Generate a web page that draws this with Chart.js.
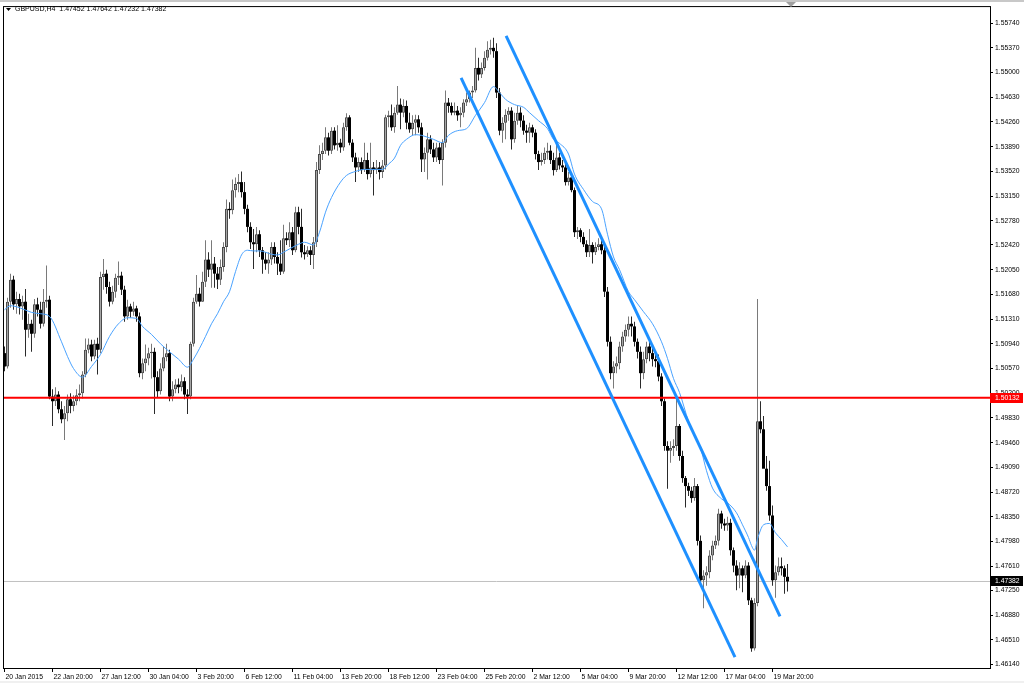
<!DOCTYPE html>
<html>
<head>
<meta charset="utf-8">
<script src="https://cdn.jsdelivr.net/npm/chart.js@4.4.0/dist/chart.umd.min.js"></script>
<style>
html, body { margin: 0; padding: 0; background: #fff; overflow: hidden; }
canvas { display: block; }
</style>
</head>
<body>
<canvas id="myChart" width="1024" height="683"></canvas>
<script>
// GBPUSD H4 candles, one entry per bar (bar index = position on the time axis)
const openP = [
  1.5080, 1.5060, 1.5157, 1.5190, 1.5153, 1.5161, 1.5150, 1.5157, 1.5115, 1.5124,
  1.5109, 1.5153, 1.5145, 1.5124, 1.5157, 1.5160, 1.5015, 1.5008, 1.5018, 1.4996,
  1.4981, 1.4990, 1.5011, 1.5001, 1.5008, 1.5017, 1.5020, 1.5048, 1.5085, 1.5093,
  1.5075, 1.5094, 1.5085, 1.5194, 1.5199, 1.5179, 1.5157, 1.5172, 1.5193, 1.5196,
  1.5175, 1.5135, 1.5150, 1.5142, 1.5147, 1.5135, 1.5050, 1.5065, 1.5072, 1.5080,
  1.5082, 1.5044, 1.5023, 1.5057, 1.5074, 1.5080, 1.5015, 1.5026, 1.5033, 1.5029,
  1.5038, 1.5018, 1.5015, 1.5094, 1.5157, 1.5169, 1.5157, 1.5187, 1.5220, 1.5205,
  1.5214, 1.5199, 1.5190, 1.5209, 1.5239, 1.5296, 1.5294, 1.5324, 1.5333, 1.5336,
  1.5321, 1.5296, 1.5269, 1.5246, 1.5243, 1.5258, 1.5234, 1.5220, 1.5214, 1.5220,
  1.5239, 1.5224, 1.5214, 1.5202, 1.5252, 1.5249, 1.5261, 1.5234, 1.5291, 1.5269,
  1.5231, 1.5228, 1.5234, 1.5227, 1.5246, 1.5354, 1.5378, 1.5383, 1.5403, 1.5383,
  1.5413, 1.5391, 1.5395, 1.5388, 1.5418, 1.5433, 1.5395, 1.5373, 1.5358, 1.5366,
  1.5354, 1.5369, 1.5348, 1.5358, 1.5354, 1.5358, 1.5351, 1.5361, 1.5433, 1.5436,
  1.5418, 1.5440, 1.5452, 1.5440, 1.5450, 1.5425, 1.5415, 1.5425, 1.5430, 1.5418,
  1.5370, 1.5380, 1.5400, 1.5385, 1.5373, 1.5388, 1.5369, 1.5395, 1.5455, 1.5450,
  1.5440, 1.5443, 1.5436, 1.5440, 1.5455, 1.5460, 1.5470, 1.5473, 1.5507, 1.5497,
  1.5507, 1.5522, 1.5534, 1.5537, 1.5532, 1.5470, 1.5413, 1.5425, 1.5437, 1.5443,
  1.5400, 1.5428, 1.5440, 1.5428, 1.5413, 1.5410, 1.5418, 1.5410, 1.5378, 1.5366,
  1.5369, 1.5380, 1.5383, 1.5369, 1.5354, 1.5373, 1.5361, 1.5358, 1.5336, 1.5343,
  1.5324, 1.5261, 1.5264, 1.5254, 1.5243, 1.5231, 1.5242, 1.5231, 1.5239, 1.5243,
  1.5234, 1.5172, 1.5097, 1.5050, 1.5060, 1.5065, 1.5090, 1.5105, 1.5115, 1.5124,
  1.5120, 1.5097, 1.5082, 1.5050, 1.5071, 1.5090, 1.5080, 1.5071, 1.5068, 1.5045,
  1.5008, 1.4941, 1.4934, 1.4938, 1.4941, 1.4971, 1.4926, 1.4893, 1.4881, 1.4874,
  1.4863, 1.4881, 1.4799, 1.4740, 1.4747, 1.4752, 1.4777, 1.4792, 1.4799, 1.4840,
  1.4825, 1.4822, 1.4826, 1.4785, 1.4762, 1.4747, 1.4758, 1.4747, 1.4762, 1.4710,
  1.4638, 1.4706, 1.4978, 1.4966, 1.4907, 1.4881, 1.4837, 1.4740, 1.4752, 1.4761,
  1.4758, 1.47452
];
const highP = [
  1.5090, 1.5163, 1.5199, 1.5196, 1.5172, 1.5169, 1.5166, 1.5176, 1.5139, 1.5130,
  1.5161, 1.5163, 1.5157, 1.5176, 1.5211, 1.5166, 1.5026, 1.5029, 1.5023, 1.5008,
  1.5001, 1.5018, 1.5020, 1.5017, 1.5026, 1.5033, 1.5053, 1.5102, 1.5102, 1.5100,
  1.5100, 1.5103, 1.5202, 1.5221, 1.5205, 1.5187, 1.5181, 1.5199, 1.5217, 1.5202,
  1.5181, 1.5160, 1.5154, 1.5157, 1.5151, 1.5141, 1.5072, 1.5093, 1.5088, 1.5094,
  1.5088, 1.5053, 1.5065, 1.5090, 1.5094, 1.5085, 1.5038, 1.5041, 1.5042, 1.5048,
  1.5044, 1.5026, 1.5097, 1.5163, 1.5197, 1.5178, 1.5202, 1.5249, 1.5231, 1.5249,
  1.5224, 1.5209, 1.5220, 1.5246, 1.5310, 1.5306, 1.5340, 1.5343, 1.5348, 1.5352,
  1.5336, 1.5302, 1.5276, 1.5266, 1.5269, 1.5264, 1.5239, 1.5231, 1.5231, 1.5246,
  1.5246, 1.5231, 1.5249, 1.5272, 1.5261, 1.5276, 1.5269, 1.5299, 1.5299, 1.5296,
  1.5242, 1.5240, 1.5240, 1.5254, 1.5366, 1.5391, 1.5395, 1.5418, 1.5410, 1.5418,
  1.5418, 1.5421, 1.5401, 1.5425, 1.5439, 1.5436, 1.5400, 1.5380, 1.5373, 1.5373,
  1.5395, 1.5380, 1.5395, 1.5366, 1.5369, 1.5366, 1.5369, 1.5437, 1.5443, 1.5452,
  1.5448, 1.5480, 1.5461, 1.5460, 1.5458, 1.5440, 1.5436, 1.5437, 1.5436, 1.5425,
  1.5388, 1.5410, 1.5406, 1.5395, 1.5395, 1.5395, 1.5400, 1.5473, 1.5462, 1.5455,
  1.5455, 1.5450, 1.5448, 1.5460, 1.5470, 1.5473, 1.5480, 1.5537, 1.5522, 1.5515,
  1.5532, 1.5547, 1.5549, 1.5552, 1.5544, 1.5477, 1.5433, 1.5445, 1.5448, 1.5448,
  1.5440, 1.5450, 1.5448, 1.5436, 1.5422, 1.5425, 1.5422, 1.5415, 1.5383, 1.5380,
  1.5388, 1.5395, 1.5391, 1.5380, 1.5395, 1.5380, 1.5369, 1.5363, 1.5351, 1.5348,
  1.5328, 1.5269, 1.5267, 1.5261, 1.5249, 1.5266, 1.5246, 1.5246, 1.5252, 1.5249,
  1.5239, 1.5179, 1.5105, 1.5068, 1.5075, 1.5097, 1.5112, 1.5123, 1.5135, 1.5135,
  1.5127, 1.5102, 1.5090, 1.5082, 1.5097, 1.5097, 1.5093, 1.5082, 1.5078, 1.5050,
  1.5012, 1.4948, 1.4948, 1.4951, 1.5012, 1.4974, 1.4934, 1.4896, 1.4886, 1.4880,
  1.4893, 1.4884, 1.4807, 1.4755, 1.4761, 1.4785, 1.4799, 1.4807, 1.4847, 1.4844,
  1.4832, 1.4835, 1.4832, 1.4789, 1.4770, 1.4767, 1.4762, 1.4770, 1.4767, 1.4714,
  1.4713, 1.5161, 1.5008, 1.4986, 1.4926, 1.4919, 1.4852, 1.4762, 1.4774, 1.4774,
  1.4762, 1.47642
];
const lowP = [
  1.5053, 1.5057, 1.5148, 1.5145, 1.5139, 1.5138, 1.5130, 1.5075, 1.5103, 1.5082,
  1.5103, 1.5135, 1.5117, 1.5120, 1.5148, 1.5011, 1.4971, 1.5001, 1.4990, 1.4975,
  1.4950, 1.4978, 1.4990, 1.4993, 1.5002, 1.5008, 1.5012, 1.5044, 1.5080, 1.5068,
  1.5071, 1.5048, 1.5080, 1.5175, 1.5169, 1.5150, 1.5153, 1.5163, 1.5182, 1.5167,
  1.5127, 1.5130, 1.5133, 1.5136, 1.5127, 1.5044, 1.5041, 1.5053, 1.5062, 1.5042,
  1.4989, 1.5014, 1.5018, 1.5053, 1.5068, 1.5008, 1.5008, 1.5020, 1.5020, 1.5023,
  1.5011, 1.4989, 1.5011, 1.5090, 1.5154, 1.5150, 1.5157, 1.5179, 1.5194, 1.5178,
  1.5178, 1.5176, 1.5182, 1.5202, 1.5231, 1.5281, 1.5288, 1.5313, 1.5321, 1.5313,
  1.5288, 1.5261, 1.5236, 1.5206, 1.5231, 1.5224, 1.5199, 1.5205, 1.5199, 1.5212,
  1.5214, 1.5197, 1.5197, 1.5199, 1.5242, 1.5239, 1.5227, 1.5231, 1.5258, 1.5223,
  1.5220, 1.5224, 1.5212, 1.5206, 1.5239, 1.5348, 1.5369, 1.5378, 1.5376, 1.5378,
  1.5385, 1.5383, 1.5380, 1.5383, 1.5413, 1.5391, 1.5366, 1.5336, 1.5351, 1.5348,
  1.5351, 1.5340, 1.5343, 1.5316, 1.5348, 1.5340, 1.5342, 1.5355, 1.5418, 1.5413,
  1.5410, 1.5437, 1.5415, 1.5433, 1.5415, 1.5410, 1.5406, 1.5406, 1.5410, 1.5351,
  1.5351, 1.5340, 1.5378, 1.5366, 1.5366, 1.5363, 1.5331, 1.5388, 1.5440, 1.5436,
  1.5436, 1.5428, 1.5418, 1.5433, 1.5450, 1.5455, 1.5462, 1.5470, 1.5488, 1.5492,
  1.5503, 1.5518, 1.5527, 1.5522, 1.5462, 1.5406, 1.5395, 1.5400, 1.5428, 1.5385,
  1.5395, 1.5422, 1.5418, 1.5407, 1.5395, 1.5395, 1.5403, 1.5370, 1.5354, 1.5361,
  1.5363, 1.5370, 1.5363, 1.5346, 1.5351, 1.5355, 1.5351, 1.5331, 1.5331, 1.5321,
  1.5254, 1.5251, 1.5246, 1.5239, 1.5224, 1.5224, 1.5214, 1.5227, 1.5234, 1.5228,
  1.5164, 1.5090, 1.5041, 1.5027, 1.5050, 1.5056, 1.5082, 1.5097, 1.5105, 1.5105,
  1.5090, 1.5072, 1.5027, 1.5041, 1.5065, 1.5068, 1.5060, 1.5059, 1.5038, 1.5001,
  1.4934, 1.4877, 1.4916, 1.4926, 1.4934, 1.4919, 1.4886, 1.4849, 1.4866, 1.4856,
  1.4859, 1.4792, 1.4732, 1.4698, 1.4732, 1.4743, 1.4770, 1.4787, 1.4792, 1.4817,
  1.4814, 1.4814, 1.4777, 1.4752, 1.4725, 1.4728, 1.4722, 1.4743, 1.4703, 1.4633,
  1.4635, 1.4701, 1.4960, 1.4914, 1.4874, 1.4829, 1.4732, 1.4714, 1.4747, 1.4747,
  1.4720, 1.47232
];
const closeP = [
  1.5060, 1.5157, 1.5190, 1.5153, 1.5161, 1.5150, 1.5157, 1.5115, 1.5124, 1.5109,
  1.5153, 1.5145, 1.5124, 1.5157, 1.5160, 1.5015, 1.5008, 1.5018, 1.4996, 1.4981,
  1.4990, 1.5011, 1.5001, 1.5008, 1.5017, 1.5020, 1.5048, 1.5085, 1.5093, 1.5075,
  1.5094, 1.5085, 1.5194, 1.5199, 1.5179, 1.5157, 1.5172, 1.5193, 1.5196, 1.5175,
  1.5135, 1.5150, 1.5142, 1.5147, 1.5135, 1.5050, 1.5065, 1.5072, 1.5080, 1.5082,
  1.5044, 1.5023, 1.5057, 1.5074, 1.5080, 1.5015, 1.5026, 1.5033, 1.5029, 1.5038,
  1.5018, 1.5015, 1.5094, 1.5157, 1.5169, 1.5157, 1.5187, 1.5220, 1.5205, 1.5214,
  1.5199, 1.5190, 1.5209, 1.5239, 1.5296, 1.5294, 1.5324, 1.5333, 1.5336, 1.5321,
  1.5296, 1.5269, 1.5246, 1.5243, 1.5258, 1.5234, 1.5220, 1.5214, 1.5220, 1.5239,
  1.5224, 1.5214, 1.5202, 1.5252, 1.5249, 1.5261, 1.5234, 1.5291, 1.5269, 1.5231,
  1.5228, 1.5234, 1.5227, 1.5246, 1.5354, 1.5378, 1.5383, 1.5403, 1.5383, 1.5413,
  1.5391, 1.5395, 1.5388, 1.5418, 1.5433, 1.5395, 1.5373, 1.5358, 1.5366, 1.5354,
  1.5369, 1.5348, 1.5358, 1.5354, 1.5358, 1.5351, 1.5361, 1.5433, 1.5436, 1.5418,
  1.5440, 1.5452, 1.5440, 1.5450, 1.5425, 1.5415, 1.5425, 1.5430, 1.5418, 1.5370,
  1.5380, 1.5400, 1.5385, 1.5373, 1.5388, 1.5369, 1.5395, 1.5455, 1.5450, 1.5440,
  1.5443, 1.5436, 1.5440, 1.5455, 1.5460, 1.5470, 1.5473, 1.5507, 1.5497, 1.5507,
  1.5522, 1.5534, 1.5537, 1.5532, 1.5470, 1.5413, 1.5425, 1.5437, 1.5443, 1.5400,
  1.5428, 1.5440, 1.5428, 1.5413, 1.5410, 1.5418, 1.5410, 1.5378, 1.5366, 1.5369,
  1.5380, 1.5383, 1.5369, 1.5354, 1.5373, 1.5361, 1.5358, 1.5336, 1.5343, 1.5324,
  1.5261, 1.5264, 1.5254, 1.5243, 1.5231, 1.5242, 1.5231, 1.5239, 1.5243, 1.5234,
  1.5172, 1.5097, 1.5050, 1.5060, 1.5065, 1.5090, 1.5105, 1.5115, 1.5124, 1.5120,
  1.5097, 1.5082, 1.5050, 1.5071, 1.5090, 1.5080, 1.5071, 1.5068, 1.5045, 1.5008,
  1.4941, 1.4934, 1.4938, 1.4941, 1.4971, 1.4926, 1.4893, 1.4881, 1.4874, 1.4863,
  1.4881, 1.4799, 1.4740, 1.4747, 1.4752, 1.4777, 1.4792, 1.4799, 1.4840, 1.4825,
  1.4822, 1.4826, 1.4785, 1.4762, 1.4747, 1.4758, 1.4747, 1.4762, 1.4710, 1.4638,
  1.4706, 1.4978, 1.4966, 1.4907, 1.4881, 1.4837, 1.4740, 1.4752, 1.4761, 1.4758,
  1.47452, 1.47382
];

// moving average, read at these bar indices
const maIdx = [0, 2, 5, 9, 12, 15, 19, 21, 23, 26, 29, 32, 35, 38, 41, 44, 46, 49, 52, 55,
  58, 61, 63, 65, 67, 69, 71, 73, 75, 77, 79, 81, 83, 85, 87, 89, 91, 93, 95, 98,
  100, 103, 105, 107, 109, 112, 114, 117, 120, 124, 126, 128, 130, 132, 134, 137, 139, 143, 146, 148,
  151, 154, 157, 160, 163, 165, 167, 170, 173, 175, 178, 181, 183, 185, 188, 190, 193, 196, 199, 201,
  203, 205, 208, 210, 213, 216, 219, 221, 223, 225, 228, 230, 232, 234, 236, 239, 241, 244, 246, 248,
  249, 250, 251, 253, 255, 257, 259, 261];
const maVal = [1.5145, 1.5151, 1.5148, 1.5141, 1.5139, 1.5135, 1.5097, 1.5075, 1.5057, 1.5044,
  1.5060, 1.5078, 1.5105, 1.5124, 1.5133, 1.5132, 1.5120, 1.5108, 1.5094, 1.5082,
  1.5071, 1.5059, 1.5071, 1.5087, 1.5105, 1.5124, 1.5139, 1.5157, 1.5172, 1.5202,
  1.5227, 1.5234, 1.5233, 1.5233, 1.5231, 1.5228, 1.5227, 1.5231, 1.5236, 1.5243,
  1.5246, 1.5242, 1.5261, 1.5291, 1.5313, 1.5336, 1.5346, 1.5352, 1.5355, 1.5355,
  1.5355, 1.5363, 1.5372, 1.5391, 1.5400, 1.5407, 1.5406, 1.5400, 1.5395, 1.5406,
  1.5413, 1.5416, 1.5436, 1.5455, 1.5479, 1.5470, 1.5460, 1.5452, 1.5448, 1.5440,
  1.5428, 1.5416, 1.5400, 1.5394, 1.5378, 1.5348, 1.5325, 1.5307, 1.5296, 1.5258,
  1.5224, 1.5205, 1.5172, 1.5160, 1.5142, 1.5124, 1.5097, 1.5072, 1.5042, 1.5021,
  1.4978, 1.4956, 1.4938, 1.4904, 1.4878, 1.4862, 1.4856, 1.4841, 1.4823, 1.4804,
  1.4792, 1.4785, 1.4802, 1.4823, 1.4825, 1.4811, 1.4801, 1.4790];

// the two drawn channel lines (bar index, price at each end)
const chanAX = [152.2, 243.5];
const chanAY = [1.5492, 1.4625];
const chanBX = [167.2, 258.5];
const chanBY = [1.5555, 1.4686];

const levelPrice = 1.50132;
const lastPrice = 1.47382;

const xTickIdx = [0, 16, 32, 48, 64, 80, 96, 112, 128, 144, 160, 176, 192, 208, 224, 240, 256];
const xTickText = ['20 Jan 2015', '22 Jan 20:00', '27 Jan 12:00', '30 Jan 04:00', '3 Feb 20:00',
  '6 Feb 12:00', '11 Feb 04:00', '13 Feb 20:00', '18 Feb 12:00', '23 Feb 04:00', '25 Feb 20:00',
  '2 Mar 12:00', '5 Mar 04:00', '9 Mar 20:00', '12 Mar 12:00', '17 Mar 04:00', '19 Mar 20:00'];
const yTickVals = [1.55740, 1.55370, 1.55000, 1.54630, 1.54260, 1.53890, 1.53520, 1.53150, 1.52780,
  1.52420, 1.52050, 1.51680, 1.51310, 1.50940, 1.50570, 1.50200, 1.49830, 1.49460, 1.49090,
  1.48720, 1.48350, 1.47980, 1.47610, 1.47250, 1.46880, 1.46510, 1.46140];

const titleText = 'GBPUSD,H4  1.47452 1.47642 1.47232 1.47382';

const FONT = '"Liberation Sans", Arial, sans-serif';
const isUp = (i) => closeP[i] >= openP[i];
const bars = closeP.map((c, i) => i);

const framePlugin = {
    id: 'frame',
    beforeDraw(chart) {
        const c = chart.ctx;
        c.save();
        c.fillStyle = '#fff';
        c.fillRect(0, 0, chart.width, chart.height);
        c.fillStyle = '#c8c8c8';
        c.fillRect(0, 0, chart.width, 2);
        c.fillStyle = '#f0f0f0';
        c.fillRect(0, 681, chart.width, 2);
        c.restore();
    },
    afterDraw(chart) {
        const c = chart.ctx;
        const a = chart.chartArea;
        const yS = chart.scales.y;
        c.save();
        c.strokeStyle = '#000';
        c.lineWidth = 1;
        c.strokeRect(a.left + 0.5, a.top + 0.5, a.right - a.left, a.bottom - a.top);

        // price tags on the axis
        c.font = '6.8px ' + FONT;
        c.textBaseline = 'middle';
        c.textAlign = 'left';
        const tag = (v, bg) => {
            const py = Math.round(yS.getPixelForValue(v));
            c.fillStyle = bg;
            c.fillRect(a.right, py - 5, 33, 10);
            c.fillStyle = '#fff';
            c.fillText(v.toFixed(5), a.right + 5, py);
        };
        tag(levelPrice, '#ff0000');
        tag(lastPrice, '#000');

        // header
        c.fillStyle = '#000';
        c.beginPath();
        c.moveTo(6, 8); c.lineTo(11, 8); c.lineTo(8.5, 11);
        c.closePath();
        c.fill();
        c.font = '7px ' + FONT;
        c.fillText(titleText, 15, 9.5);

        // chart shift marker
        c.fillStyle = '#a0a0a0';
        c.beginPath();
        c.moveTo(786, 2); c.lineTo(796, 2); c.lineTo(791, 7);
        c.closePath();
        c.fill();
        c.restore();
    }
};

const ctx = document.getElementById('myChart').getContext('2d');
const myChart = new Chart(ctx, {
    type: 'bar',
    data: {
        datasets: [
            {
                type: 'line', label: 'channel A',
                data: chanAX.map((x, k) => ({ x: x, y: chanAY[k] })),
                borderColor: '#1e90ff', borderWidth: 3, pointRadius: 0, order: 0
            },
            {
                type: 'line', label: 'channel B',
                data: chanBX.map((x, k) => ({ x: x, y: chanBY[k] })),
                borderColor: '#1e90ff', borderWidth: 3, pointRadius: 0, order: 0
            },
            {
                type: 'line', label: 'level',
                data: [{ x: -0.5, y: levelPrice }, { x: 328.5, y: levelPrice }],
                borderColor: '#ff0000', borderWidth: 2, pointRadius: 0, order: 1
            },
            {
                type: 'line', label: 'MA',
                data: maIdx.map((x, k) => ({ x: x, y: maVal[k] })),
                borderColor: '#4aa3ff', borderWidth: 1, pointRadius: 0,
                cubicInterpolationMode: 'monotone', order: 2
            },
            {
                type: 'bar', label: 'body',
                data: bars.map(i => ({ x: i, y: [openP[i], closeP[i]] })),
                barThickness: 3, grouped: false, minBarLength: 1, inflateAmount: 0,
                backgroundColor: (c) => isUp(c.dataIndex) ? '#a6a6a6' : '#000',
                borderColor: (c) => isUp(c.dataIndex) ? '#4a4a4a' : '#000',
                borderWidth: (c) => isUp(c.dataIndex) ? 1 : 0,
                borderSkipped: false,
                order: 3
            },
            {
                type: 'bar', label: 'wick',
                data: bars.map(i => ({ x: i, y: [lowP[i], highP[i]] })),
                barThickness: 1, grouped: false, inflateAmount: 0,
                backgroundColor: (c) => isUp(c.dataIndex) ? '#7a7a7a' : '#2a2a2a',
                order: 4
            },
            {
                type: 'line', label: 'last',
                data: [{ x: -0.5, y: lastPrice }, { x: 328.5, y: lastPrice }],
                borderColor: '#c0c0c0', borderWidth: 1, pointRadius: 0, order: 5
            }
        ]
    },
    options: {
        responsive: false,
        devicePixelRatio: 1,
        animation: false,
        layout: { padding: { left: 3, top: 3, right: 0, bottom: 0 }, autoPadding: false },
        plugins: { legend: { display: false }, tooltip: { enabled: false } },
        scales: {
            x: {
                type: 'linear', position: 'bottom', min: -0.5, max: 328.5, offset: false, bounds: 'data',
                afterBuildTicks: (s) => { s.ticks = xTickIdx.map(v => ({ value: v })); },
                afterFit: (s) => { s.height = 15; },
                grid: { drawOnChartArea: false, drawTicks: true, tickLength: 4, color: '#000', offset: false },
                border: { display: false },
                ticks: {
                    autoSkip: false, maxRotation: 0, align: 'start', padding: 1, labelOffset: 1,
                    color: '#000', font: { family: FONT, size: 6.8 },
                    callback: (v, i) => xTickText[i]
                }
            },
            y: {
                type: 'linear', position: 'right', min: 1.46087, max: 1.55995, bounds: 'data',
                afterBuildTicks: (s) => { s.ticks = yTickVals.map(v => ({ value: v })); },
                afterFit: (s) => { s.width = 34; },
                grid: { drawOnChartArea: false, drawTicks: true, tickLength: 3, color: '#000' },
                border: { display: false },
                ticks: {
                    autoSkip: false, padding: 2, color: '#000', font: { family: FONT, size: 6.8 },
                    callback: (v) => Number(v).toFixed(5)
                }
            }
        }
    },
    plugins: [framePlugin]
});
</script>
</body>
</html>
